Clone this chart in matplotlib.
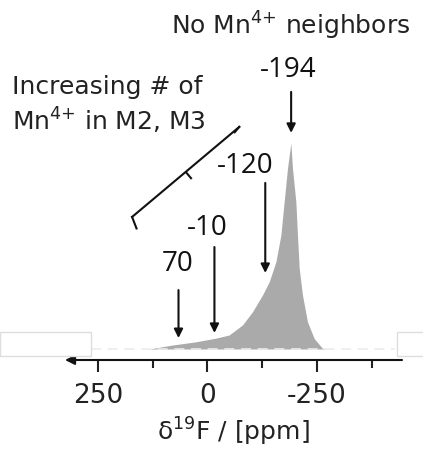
import matplotlib
matplotlib.use("Agg")
import matplotlib.pyplot as plt
from matplotlib.patches import Rectangle
import numpy as np

plt.rcParams['font.family'] = ['DejaVu Sans']
plt.rcParams['mathtext.fontset'] = 'dejavusans'
plt.rcParams['axes.unicode_minus'] = False

# 19F NMR spectrum (ppm, normalised intensity)
ppm = [133.1, 80.6, 25.8, -19.9, -49.5, -80.1, -102.9, -125.6, -140.9,
       -156.2, -167.6, -175.1, -182.7, -190.4, -194.1, -201.8, -205.5,
       -209.4, -216.9, -228.3, -243.6, -262.6, -277.9]
intensity = [0.0, 0.019, 0.035, 0.053, 0.068, 0.117, 0.181, 0.262, 0.326,
             0.423, 0.553, 0.715, 0.877, 1.0, 0.877, 0.715, 0.553, 0.392,
             0.262, 0.132, 0.051, 0.003, 0.0]

# peak labels and where their arrows sit
peak_labels = ['70', '-10', '-120', '-194']
arrow_ppm = [66, -16, -132, -191]
arrow_top = [0.286, 0.495, 0.806, 1.248]
arrow_tip = [0.053, 0.078, 0.369, 1.049]
label_ppm = [68, 0, -87, -185]
label_y = [0.413, 0.587, 0.888, 1.354]

major_ticks = [250, 0, -250]
minor_ticks = [125, -125, -375]

fig = plt.figure(figsize=(4.23, 4.53), dpi=100)
ax = fig.add_axes([65 / 423, 93 / 453, 337 / 423, 360 / 453])
ax.set_xlim(325, -444)
ax.set_ylim(-0.0534, 1.694)
ax.patch.set_alpha(0)
for s in ['top', 'right', 'left', 'bottom']:
    ax.spines[s].set_visible(False)
ax.set_yticks([])

ax.set_xticks(major_ticks)
ax.set_xticks(minor_ticks, minor=True)
ax.tick_params(axis='x', which='major', length=8.5, width=1.5, labelsize=19, pad=8, color='#222222',
               labelcolor='#222222')
ax.tick_params(axis='x', which='minor', length=5.5, width=1.5, color='#222222')
ax.set_xlabel('δ$^{19}$F / [ppm]', fontsize=18, labelpad=5, color='#222222')

# axis line with arrow at the left end
ax.annotate('', xy=(0, 0), xycoords='axes fraction', xytext=(1, 0),
            textcoords='axes fraction',
            arrowprops=dict(arrowstyle='-|>', color='#111111', lw=1.5, mutation_scale=14,
                            shrinkA=0, shrinkB=0))

# faint baseline
ax.plot([265, -428], [0, 0], color='#ececec', lw=1.2, dashes=(6, 4))
ax.fill_between(ppm, 0, intensity, color='#aaaaaa', lw=0)

# peak arrows
for lab, xa, yt, yb, xl, yl in zip(peak_labels, arrow_ppm, arrow_top, arrow_tip, label_ppm, label_y):
    ax.annotate('', xy=(xa, yb), xytext=(xa, yt),
                arrowprops=dict(arrowstyle='-|>', color='#111111', lw=1.5, mutation_scale=13,
                                shrinkA=0, shrinkB=0))
    ax.text(xl, yl, lab, fontsize=20, family=['Open Sans', 'DejaVu Sans'],
            ha='center', va='center', color='#111111')

ax.text(-190, 1.57, 'No Mn$^{4{+}}$ neighbors', fontsize=18, ha='center', va='center',
        color='#222222', clip_on=False)
ax.text(445, 1.272, 'Increasing # of', fontsize=18, ha='left', va='center',
        color='#222222', clip_on=False)
ax.text(445, 1.107, 'Mn$^{4{+}}$ in M2, M3', fontsize=18, ha='left', va='center',
        color='#222222', clip_on=False)

# bracket
bx = [161.8, 171.9, 47.7, 37.4, 47.7, 58.0, 47.7, -72.6, -62.3]
by = [0.585, 0.641, 0.855, 0.829, 0.855, 0.881, 0.855, 1.078, 1.052]
ax.plot(bx[:2], by[:2], color='#111111', lw=1.5)
ax.plot(bx[1:8:6], by[1:8:6], color='#111111', lw=1.5)
ax.plot(bx[3:5], by[3:5], color='#111111', lw=1.5)
ax.plot(bx[7:], by[7:], color='#111111', lw=1.5)

# the two white boxes at the plot edges
fig.patches.append(Rectangle((0, 97 / 453), 91 / 423, 24 / 453, transform=fig.transFigure,
                             facecolor='white', edgecolor='#dddddd', lw=1))
fig.patches.append(Rectangle((397 / 423, 97 / 453), 30 / 423, 24 / 453, transform=fig.transFigure,
                             facecolor='white', edgecolor='#dddddd', lw=1))

fig.savefig('out.png', dpi=100)
